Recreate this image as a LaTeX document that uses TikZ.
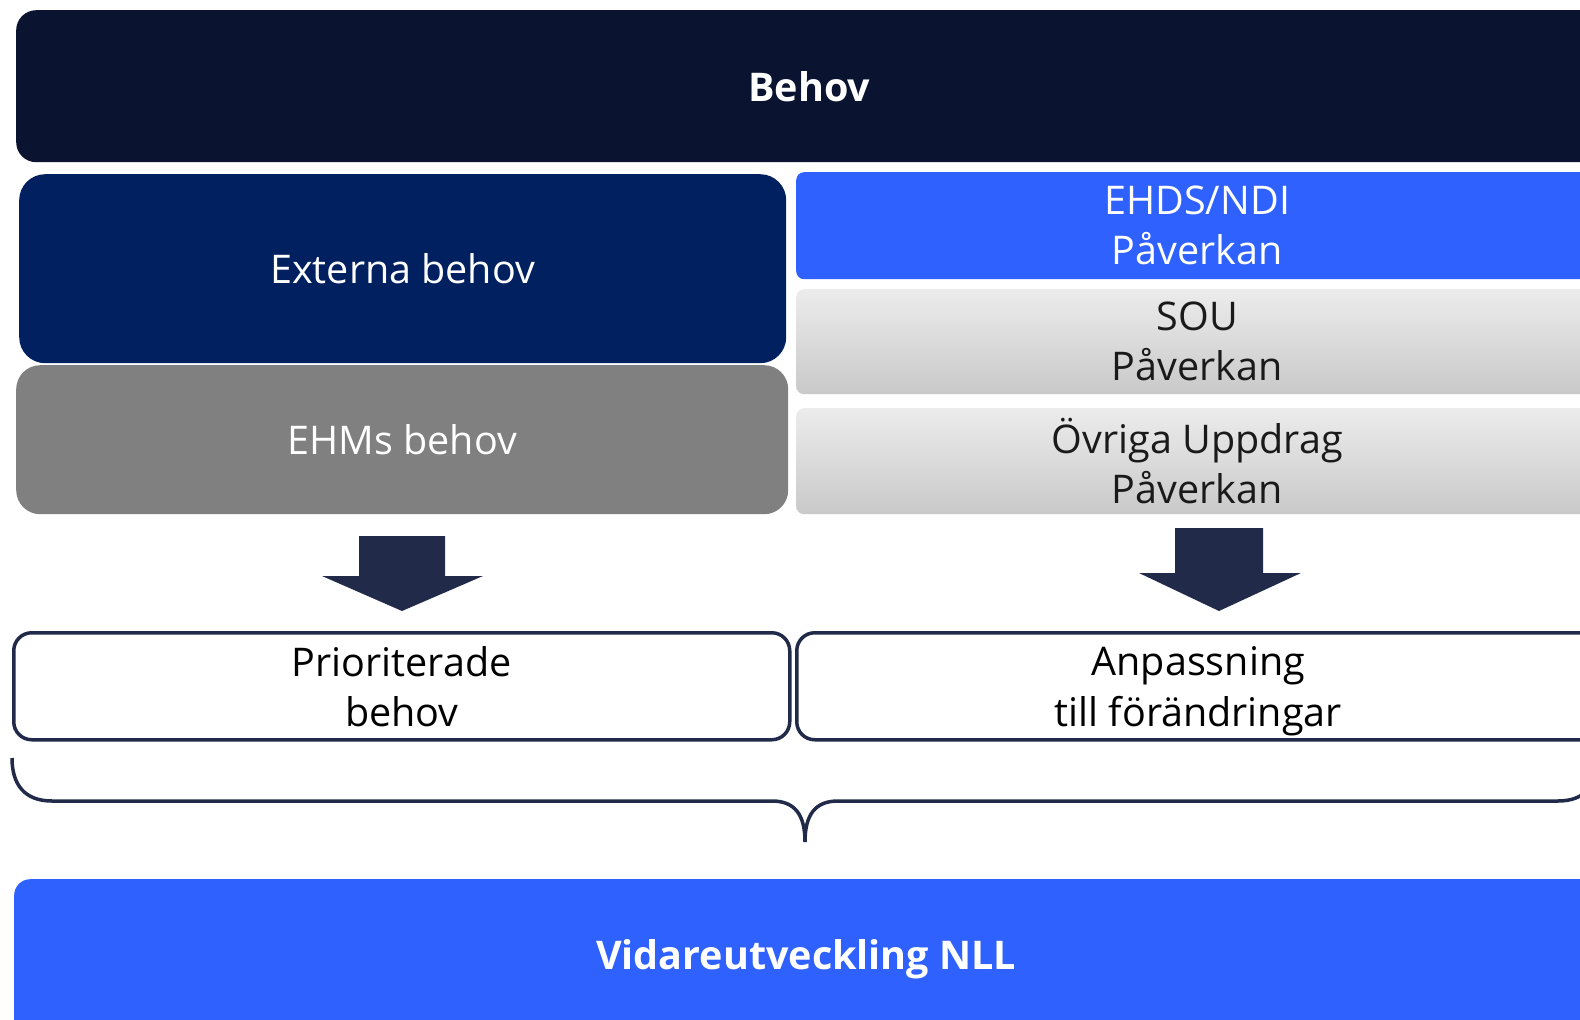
\documentclass[tikz,border=0pt]{standalone}
\usepackage{fontspec}
\setmainfont{Open Sans}
\definecolor{navyA}{HTML}{0A1330}
\definecolor{navyB}{HTML}{01205F}
\definecolor{greyB}{HTML}{808080}
\definecolor{blueC}{HTML}{2F61FF}
\definecolor{lineC}{HTML}{222A49}
\definecolor{gtop}{HTML}{ECECEC}
\definecolor{gbot}{HTML}{C9C9C9}
\definecolor{txtD}{HTML}{1A1A1A}
\tikzset{
  box/.style={rectangle, inner sep=0pt, anchor=north west, align=center,
    font=\fontsize{39.5}{50}\selectfont},
  greybox/.style={box, top color=gtop, bottom color=gbot, rounded corners=8pt, text=txtD},
  outline/.style={box, draw=lineC, line width=3.5pt, fill=white, rounded corners=18pt, text=black},
  blockarrow/.style={fill=lineC},
  bracepath/.style={draw=lineC, line width=3.5pt}
}
\begin{document}
\begin{tikzpicture}[x=1pt,y=-1pt]
\useasboundingbox (0,0) rectangle (1580,1020);
\clip (0,0) rectangle (1580,1020);

\node[box, fill=navyA, rounded corners=20pt, minimum width=1586pt, minimum height=152pt, text=white, font=\fontsize{39.5}{50}\selectfont\bfseries] (behov) at (16,10) {Behov};

\node[box, fill=navyB, rounded corners=26pt, minimum width=767pt, minimum height=189pt, text=white] (ext) at (19,174) {Externa behov};
\node[box, fill=greyB, rounded corners=24pt, minimum width=772pt, minimum height=149pt, text=white] (ehm) at (16,365) {EHMs behov};

\node[box, fill=blueC, rounded corners=8pt, minimum width=802pt, minimum height=107pt, text=white] (ehds) at (796,172) {EHDS/NDI\\Påverkan};
\node[greybox, minimum width=802pt, minimum height=105pt] (sou) at (796,289) {SOU\\Påverkan};
\node[greybox, minimum width=802pt, minimum height=106pt] (ovr) at (796,408) {Övriga Uppdrag\\Påverkan};

\fill[blockarrow] (359,536) -- (445,536) -- (445,576) -- (483,576) -- (402,611) -- (322,576) -- (359,576) -- cycle;
\fill[blockarrow] (1175,528) -- (1263,528) -- (1263,573) -- (1301,573) -- (1219,611) -- (1139,573) -- (1175,573) -- cycle;

\node[outline, minimum width=776pt, minimum height=107pt] (prio) at (12,631) {Prioriterade\\behov};
\node[outline, minimum width=803pt, minimum height=107pt] (anp) at (795,631) {\raisebox{-5pt}[\height][\depth]{\begin{tabular}{@{}c@{}}Anpassning\\[1pt]till förändringar\end{tabular}}};

\coordinate (bl) at (12,758);
\coordinate (tip) at (805,842);
\coordinate (br) at (1598,758);
\draw[bracepath] (bl) .. controls (12,785) and (25,801) .. (52,801) -- (772,801)
  .. controls (795,801) and (805,815) .. (tip)
  .. controls (805,815) and (815,801) .. (838,801) -- (1558,801)
  .. controls (1585,801) and (1598,785) .. (br);

\node[box, fill=blueC, rounded corners=16pt, minimum width=1584pt, minimum height=160pt, text=white, font=\fontsize{39.5}{50}\selectfont\bfseries] (vid) at (14,879) {\raisebox{10pt}{Vidareutveckling NLL}};
\end{tikzpicture}
\end{document}
